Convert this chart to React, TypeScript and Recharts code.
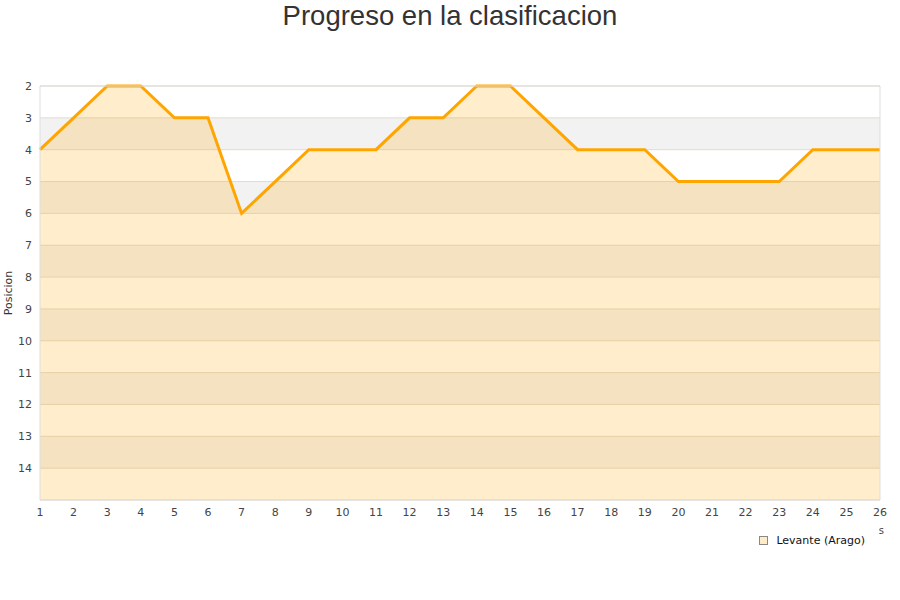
import React from "react";
import {
  ComposedChart,
  Area,
  XAxis,
  YAxis,
  CartesianGrid,
  ReferenceLine,
  Legend,
} from "recharts";

// jornada number and league position after each round
const jornadas = [
  1, 2, 3, 4, 5, 6, 7, 8, 9, 10, 11, 12, 13, 14, 15, 16, 17, 18, 19, 20, 21,
  22, 23, 24, 25, 26,
];
const posiciones = [
  4, 3, 2, 2, 3, 3, 6, 5, 4, 4, 4, 3, 3, 2, 2, 3, 4, 4, 4, 5, 5, 5, 5, 4, 4, 4,
];
const yTicks = [2, 3, 4, 5, 6, 7, 8, 9, 10, 11, 12, 13, 14];
const teamName = "Levante (Arago)";

const data = jornadas.map((j, i) => ({ jornada: j, pos: posiciones[i] }));

const tickStyle = { fill: "#444", fontSize: 11, fontFamily: "DejaVu Sans" };

const LegendContent = () => (
  <div
    style={{
      display: "flex",
      alignItems: "center",
      gap: 8,
      fontFamily: "DejaVu Sans",
      fontSize: 11,
      color: "#111",
    }}
  >
    <div
      style={{
        width: 7,
        height: 7,
        background: "#FFEBC8",
        border: "1px solid #888",
      }}
    />
    <span>{teamName}</span>
  </div>
);

export default function App() {
  return (
    <div style={{ position: "absolute", left: 0, top: 0, width: 900, height: 600, background: "#fff" }}>
      <div
        style={{
          position: "absolute",
          top: 0,
          left: 0,
          width: 900,
          textAlign: "center",
          fontFamily: "Liberation Sans",
          fontSize: 27.5,
          lineHeight: "32px",
          color: "#333",
        }}
      >
        Progreso en la clasificacion
      </div>
      <ComposedChart
        width={900}
        height={600}
        data={data}
        margin={{ top: 86, right: 20, bottom: 57, left: 0 }}
      >
        <CartesianGrid
          vertical={false}
          stroke="#e2dccf"
          horizontalFill={["#ffffff", "#f2f2f2"]}
        />
        <XAxis
          dataKey="jornada"
          type="number"
          domain={[1, 26]}
          ticks={jornadas}
          interval={0}
          height={30}
          tick={tickStyle}
          tickLine={false}
          axisLine={{ stroke: "#ddd" }}
          label={{
            value: "s",
            position: "insideBottomRight",
            offset: -4,
            style: { fill: "#444", fontSize: 10, fontFamily: "DejaVu Sans" },
          }}
        />
        <YAxis
          type="number"
          reversed
          domain={[2, 15]}
          ticks={yTicks}
          interval={0}
          width={40}
          tick={tickStyle}
          tickLine={false}
          axisLine={{ stroke: "#ddd" }}
          label={{
            value: "Posicion",
            angle: -90,
            position: "insideLeft",
            offset: 8,
            textAnchor: "middle",
            style: { fill: "#333", fontSize: 11, fontFamily: "DejaVu Sans", textAnchor: "middle" },
          }}
        />
        <ReferenceLine y={2} stroke="#ddd" />
        <ReferenceLine x={26} stroke="#ddd" />
        <Area
          type="linear"
          dataKey="pos"
          name={teamName}
          baseValue={15}
          stroke="#FFA500"
          strokeWidth={3}
          fill="#FFA500"
          fillOpacity={0.2}
          dot={false}
          activeDot={false}
          isAnimationActive={false}
        />
        <Legend
          verticalAlign="bottom"
          align="right"
          content={<LegendContent />}
          wrapperStyle={{ right: 35, bottom: 53, width: "auto", left: "auto" }}
        />
      </ComposedChart>
    </div>
  );
}
